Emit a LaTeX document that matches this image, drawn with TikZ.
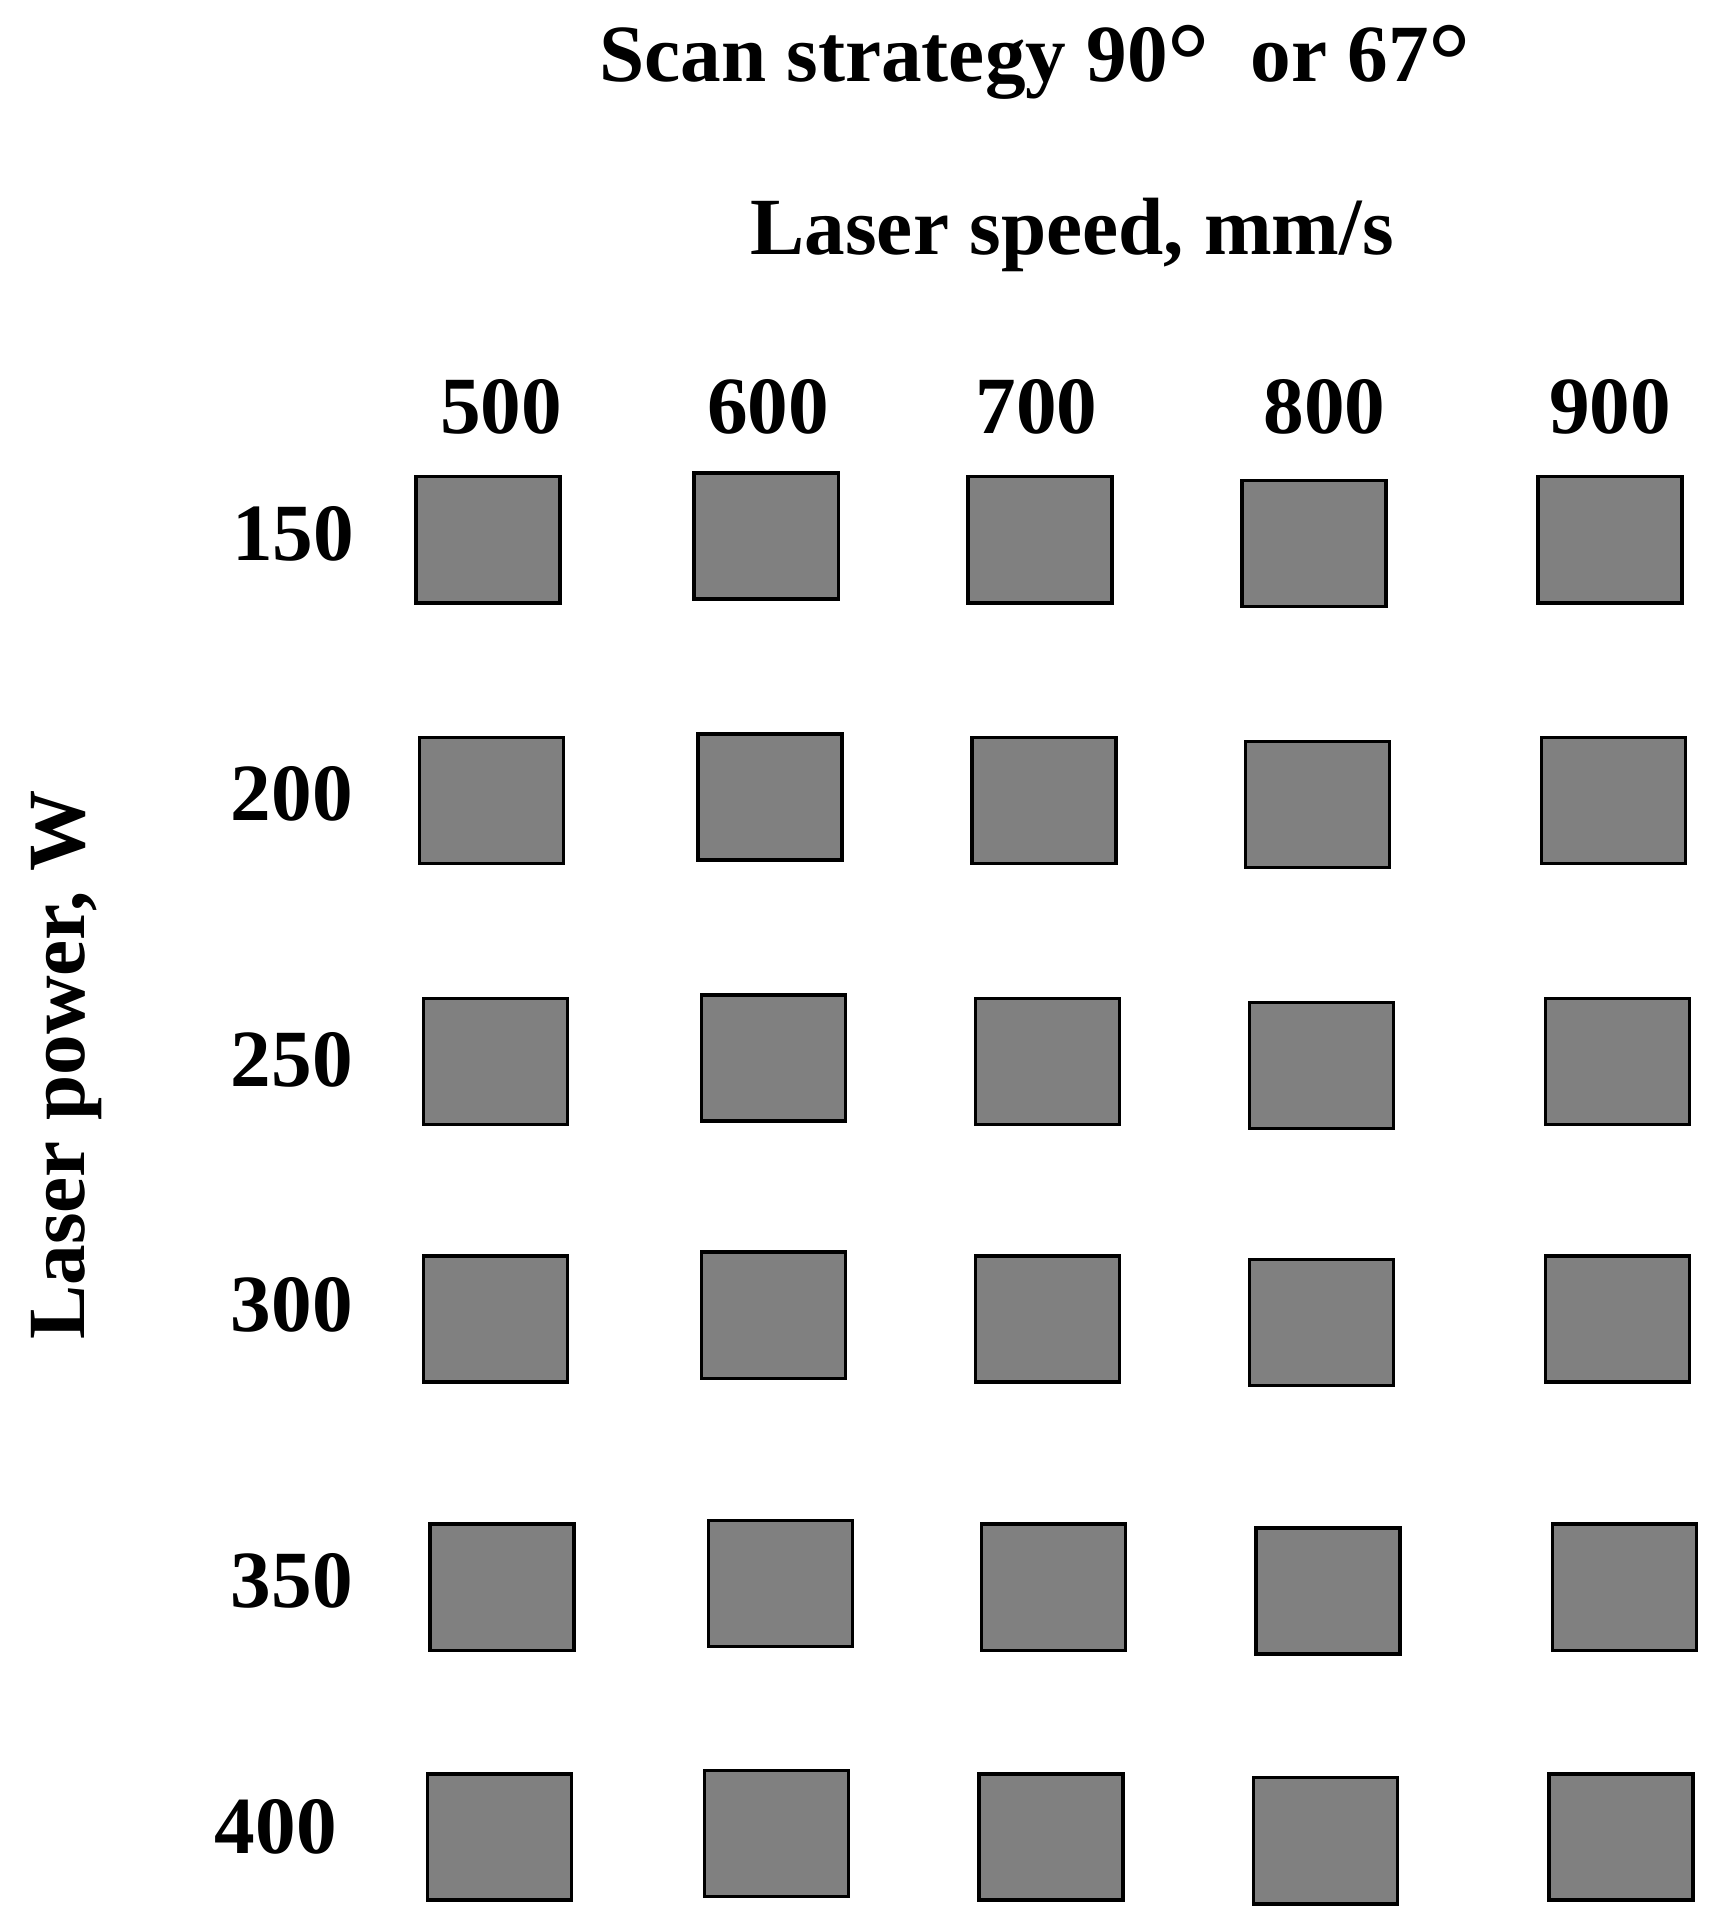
\documentclass[tikz,border=0pt]{standalone}
\usepackage{graphicx}
\usepackage{fontspec}
\setmainfont{Liberation Serif}
\definecolor{sqfill}{RGB}{128,128,128}
\newcommand{\bigdeg}{\raisebox{-0.17em}{\scalebox{1.3}{\textdegree}}}
\begin{document}
\begin{tikzpicture}[x=0.5pt,y=-0.5pt,
  lbl/.style={font=\fontsize{33}{40}\selectfont\bfseries, inner sep=0pt, anchor=base},
  sq/.style={draw=black, fill=sqfill, line width=1.4pt, minimum width=58.5pt, minimum height=51.25pt, inner sep=0pt, rectangle}]
\useasboundingbox (0,0) rectangle (1397,1568);
\node[lbl] (title) at (841,66) {Scan strategy 90\bigdeg\ \ or 67\bigdeg};
\node[lbl] (speed) at (871,207) {Laser speed, mm/s};
\node[lbl, rotate=90] (power) at (69,865) {Laser power, W};
% column labels
\node[lbl] (c500) at (407,352) {500};
\node[lbl] (c600) at (624,352) {600};
\node[lbl] (c700) at (842,352) {700};
\node[lbl] (c800) at (1076,352) {800};
\node[lbl] (c900) at (1308,352) {900};
% row labels
\node[lbl] (r150) at (238,455) {150};
\node[lbl] (r200) at (237,667) {200};
\node[lbl] (r250) at (237,883) {250};
\node[lbl] (r300) at (237,1082) {300};
\node[lbl] (r350) at (237,1306) {350};
\node[lbl] (r400) at (224,1506) {400};
% squares
\node[sq] (s11) at (396.5,438.5) {};
\node[sq] (s12) at (622.5,435.5) {};
\node[sq] (s13) at (845,438.5) {};
\node[sq] (s14) at (1067.5,441.5) {};
\node[sq] (s15) at (1308,438.5) {};
\node[sq] (s21) at (399.5,650.5) {};
\node[sq] (s22) at (625.5,647.5) {};
\node[sq] (s23) at (848,650.5) {};
\node[sq] (s24) at (1070.5,653.5) {};
\node[sq] (s25) at (1311,650.5) {};
\node[sq] (s31) at (402.5,862.5) {};
\node[sq] (s32) at (628.5,859.5) {};
\node[sq] (s33) at (851,862.5) {};
\node[sq] (s34) at (1073.5,865.5) {};
\node[sq] (s35) at (1314,862.5) {};
\node[sq] (s41) at (402.5,1071.5) {};
\node[sq] (s42) at (628.5,1068.5) {};
\node[sq] (s43) at (851,1071.5) {};
\node[sq] (s44) at (1073.5,1074.5) {};
\node[sq] (s45) at (1314,1071.5) {};
\node[sq] (s51) at (408,1289.5) {};
\node[sq] (s52) at (634,1286.5) {};
\node[sq] (s53) at (856,1289.5) {};
\node[sq] (s54) at (1079,1292.5) {};
\node[sq] (s55) at (1320,1289.5) {};
\node[sq] (s61) at (406,1492.5) {};
\node[sq] (s62) at (631,1489.5) {};
\node[sq] (s63) at (854,1492.5) {};
\node[sq] (s64) at (1077,1495.5) {};
\node[sq] (s65) at (1317,1492.5) {};
\end{tikzpicture}
\end{document}
